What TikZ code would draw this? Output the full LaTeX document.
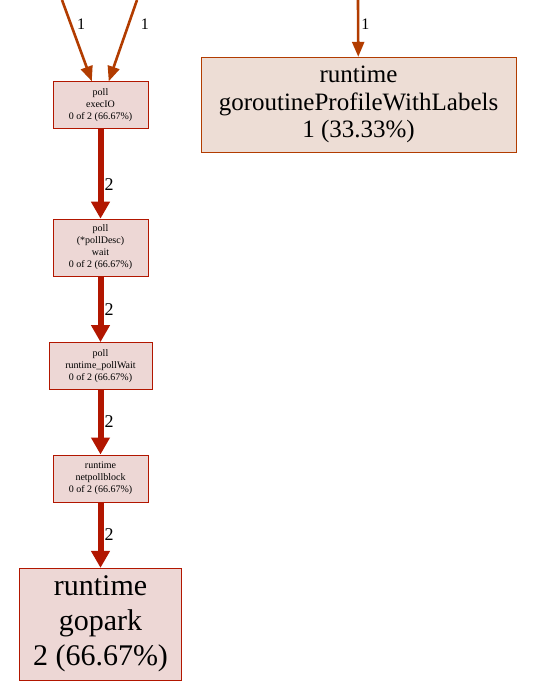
\documentclass[tikz,border=0pt]{standalone}
\usepackage{fontspec}
\setmainfont{Liberation Serif}
\usetikzlibrary{arrows.meta, positioning}
\definecolor{hotred}{HTML}{B21600}
\definecolor{warmred}{HTML}{B23C00}
\definecolor{hotfill}{HTML}{EDD7D5}
\definecolor{warmfill}{HTML}{EDDDD5}

\begin{document}
\begin{tikzpicture}[
    x=1pt, y=1pt,
    node distance=66pt,
    func/.style={draw=hotred, fill=hotfill, align=center, inner sep=0pt,
      font=\fontsize{10}{12}\selectfont, minimum width=95pt, minimum height=47pt},
    hot/.style={-{Triangle[length=17pt, width=18pt]}, draw=hotred, line width=6pt},
    warm/.style={-{Triangle[length=15pt, width=12pt]}, draw=warmred, line width=2.6pt},
    bigl/.style={right, inner sep=1pt, font=\fontsize{18}{18}\selectfont},
    smalll/.style={right, inner sep=1pt, font=\fontsize{16}{16}\selectfont}
]
\useasboundingbox (0,0) rectangle (559,-689);

% Nodes
\node[func] (execIO) at (100.5,-105) {poll\\ execIO\\ 0 of 2 (66.67\%)};
\node[func, minimum height=57pt, below=90pt of execIO] (wait)
  {poll\\ (*pollDesc)\\ wait\\ 0 of 2 (66.67\%)};
\node[func, minimum width=103pt, below=of wait] (pollWait)
  {poll\\ runtime\_pollWait\\ 0 of 2 (66.67\%)};
\node[func, below=65pt of pollWait] (netpoll)
  {runtime\\ netpollblock\\ 0 of 2 (66.67\%)};
\node[func, minimum width=162pt, minimum height=112pt, below=of netpoll,
  font=\fontsize{30}{35}\selectfont] (gopark) {runtime\\ gopark\\ 2 (66.67\%)};
\node[func, draw=warmred, fill=warmfill, minimum width=315pt, minimum height=95pt,
  font=\fontsize{25}{27.5}\selectfont] (profile) at (358.5,-104.5)
  {runtime\\ goroutineProfileWithLabels\\ 1 (33.33\%)};

% Free ends
\coordinate (inA) at (62,0);
\coordinate (inB) at (137,0);
\coordinate (inC) at (358,0);

% Arrows
\draw[warm] (inA) -- node[smalll, pos=0.3, xshift=4pt] {1} (execIO);
\draw[warm] (inB) -- node[smalll, pos=0.3, xshift=10pt] {1} (execIO);
\draw[warm] (inC) -- node[smalll, pos=0.42, xshift=1pt] {1} (profile);
\draw[hot] (execIO) -- node[bigl, pos=0.62] {2} (wait);
\draw[hot] (wait) -- node[bigl] {2} (pollWait);
\draw[hot] (pollWait) -- node[bigl] {2} (netpoll);
\draw[hot] (netpoll) -- node[bigl] {2} (gopark);

\end{tikzpicture}
\end{document}
